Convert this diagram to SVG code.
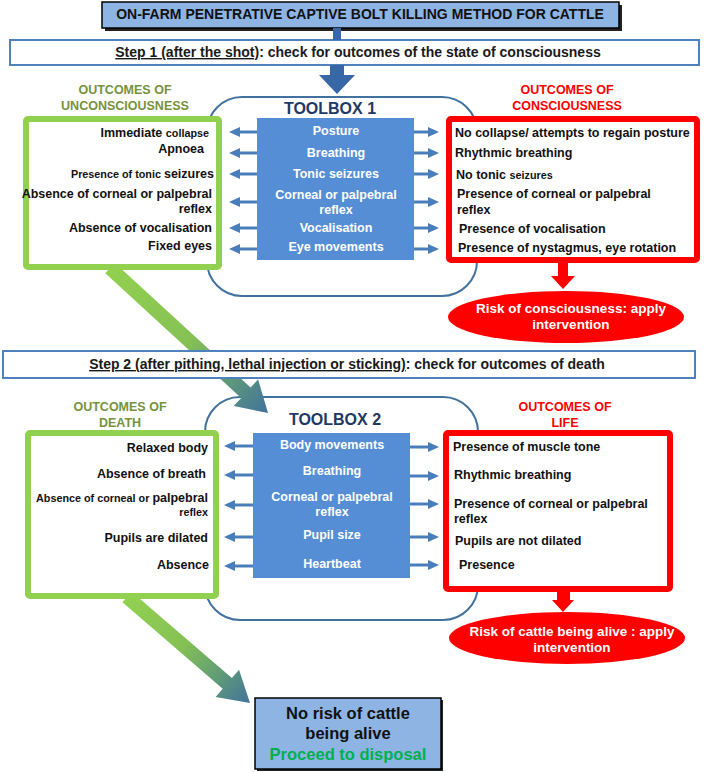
<svg xmlns="http://www.w3.org/2000/svg" width="709" height="772" viewBox="0 0 709 772">
<defs>
<style>
text{font-family:"Liberation Sans",Arial,sans-serif;font-weight:bold}
.t{font-size:12.5px;fill:#111}
.s{font-size:10.8px}
.end{text-anchor:end}
.w{font-size:12.5px;fill:#fff;text-anchor:middle}
.hg{font-size:12.5px;fill:#76923C;text-anchor:middle}
.hr{font-size:12.5px;fill:#FF0000;text-anchor:middle}
.tb{font-size:16px;fill:#1F3864;text-anchor:middle}
.step{font-size:14px;fill:#1a1a1a;text-anchor:middle}
.e{font-size:13.5px;fill:#fff;text-anchor:middle}
.outline{fill:none;stroke:#41719C;stroke-width:2}
.blue{fill:#558ED5}
.gbox{fill:#fff;stroke:#92D050;stroke-width:6}
.rbox{fill:#fff;stroke:#FF0000;stroke-width:6}
.stepbox{fill:#fff;stroke:#4F81BD;stroke-width:2}
.lbox{fill:#8EB4E3;stroke:#000;stroke-width:1.5}
.shadow{fill:#222}
.sa{stroke:#4A7EBB;stroke-width:3;fill:none;marker-end:url(#ah)}
.dark{fill:#3767A6}
.red{fill:#FF0000}
</style>
<marker id="ah" markerUnits="userSpaceOnUse" markerWidth="12" markerHeight="12" refX="7" refY="5" orient="auto"><path d="M0,0 L11,5 L0,10 z" fill="#4A7EBB"/></marker>
<linearGradient id="g1" gradientUnits="userSpaceOnUse" x1="110" y1="268" x2="268" y2="413">
<stop offset="0" stop-color="#92D050"/><stop offset="0.5" stop-color="#86C154"/><stop offset="0.75" stop-color="#5F9B78"/><stop offset="1" stop-color="#41729C"/>
</linearGradient>
<linearGradient id="g2" gradientUnits="userSpaceOnUse" x1="127" y1="597" x2="250" y2="703">
<stop offset="0" stop-color="#92D050"/><stop offset="0.45" stop-color="#86C154"/><stop offset="0.75" stop-color="#5F9B78"/><stop offset="1" stop-color="#41729C"/>
</linearGradient>
</defs>
<rect width="709" height="772" fill="#fff"/>

<g id="title">
<rect class="shadow" x="105" y="5" width="517" height="26"/>
<rect class="lbox" x="102" y="2" width="517" height="26"/>
<text x="360" y="19" style="font-size:14px;fill:#111;text-anchor:middle">ON-FARM PENETRATIVE CAPTIVE BOLT KILLING METHOD FOR CATTLE</text>
</g>

<g id="step1">
<rect class="stepbox" x="10" y="40" width="689" height="25"/>
<text class="step" x="358" y="57"><tspan text-decoration="underline">Step 1 (after the shot)</tspan>: check for outcomes of the state of consciousness</text>
</g>

<g id="toolbox1">
<rect class="outline" x="207" y="97" width="270" height="199" rx="35"/>
<text class="tb" x="330" y="114">TOOLBOX 1</text>
<rect class="blue" x="257" y="118" width="157" height="142"/>
<text class="w" x="336" y="135">Posture</text>
<text class="w" x="336" y="157">Breathing</text>
<text class="w" x="336" y="178">Tonic seizures</text>
<text class="w" x="336" y="199">Corneal or palpebral</text>
<text class="w" x="336" y="214">reflex</text>
<text class="w" x="336" y="232">Vocalisation</text>
<text class="w" x="336" y="251">Eye movements</text>
</g>

<g id="toolbox2">
<rect class="outline" x="205" y="397" width="273" height="223" rx="35"/>
<text class="tb" x="335" y="425">TOOLBOX 2</text>
<rect class="blue" x="253" y="433" width="157" height="145"/>
<text class="w" x="332" y="449">Body movements</text>
<text class="w" x="332" y="475">Breathing</text>
<text class="w" x="332" y="501">Corneal or palpebral</text>
<text class="w" x="332" y="516">reflex</text>
<text class="w" x="332" y="539">Pupil size</text>
<text class="w" x="332" y="568">Heartbeat</text>
</g>

<g id="connectors">
<rect class="dark" x="333" y="28" width="8" height="12"/>
<polygon class="dark" points="330,65 344,65 344,75 355,75 337,94 319,75 330,75"/>
<path class="sa" d="M257,132 H233"/>
<path class="sa" d="M257,153 H233"/>
<path class="sa" d="M257,174 H233"/>
<path class="sa" d="M257,202 H233"/>
<path class="sa" d="M257,228 H233"/>
<path class="sa" d="M257,249 H233"/>
<path class="sa" d="M414,132 H435"/>
<path class="sa" d="M414,153 H435"/>
<path class="sa" d="M414,174 H435"/>
<path class="sa" d="M414,202 H435"/>
<path class="sa" d="M414,228 H435"/>
<path class="sa" d="M414,249 H435"/>
<path class="sa" d="M253,446 H228"/>
<path class="sa" d="M253,475 H228"/>
<path class="sa" d="M253,505 H228"/>
<path class="sa" d="M253,537 H228"/>
<path class="sa" d="M253,566 H228"/>
<path class="sa" d="M410,447 H435"/>
<path class="sa" d="M410,476 H435"/>
<path class="sa" d="M410,504 H435"/>
<path class="sa" d="M410,537 H435"/>
<path class="sa" d="M410,565 H435"/>
<polygon class="red" points="558,262 568,262 568,276 575,276 563,289 551,276 558,276"/>
<polygon class="red" points="557,590 570,590 570,600 574,600 563,612 552,600 557,600"/>
<polygon fill="url(#g1)" points="114.7,262.8 250.6,387.5 258.1,379.4 268,413 233.7,406 241.2,397.9 105.3,273.2"/>
<polygon fill="url(#g2)" points="131.6,591.7 231.9,678.1 239,669.8 250,703 215.6,697 222.7,688.7 122.4,602.3"/>
</g>

<g id="step2">
<rect class="stepbox" x="3" y="351" width="692" height="27"/>
<text class="step" x="347" y="369"><tspan text-decoration="underline">Step 2 (after pithing, lethal injection or sticking)</tspan>: check for outcomes of death</text>
</g>

<g id="unconsciousness">
<text class="hg" x="125" y="94">OUTCOMES OF</text>
<text class="hg" x="125" y="110">UNCONSCIOUSNESS</text>
<rect class="gbox" x="26" y="119" width="193" height="148" rx="2"/>
<text class="t end" x="209" y="137">Immediate <tspan class="s">collapse</tspan></text>
<text class="t end" x="204" y="153">Apnoea</text>
<text class="t end" x="214" y="178"><tspan class="s">Presence of tonic </tspan>seizures</text>
<text class="t end" x="212" y="198">Absence of corneal or palpebral</text>
<text class="t end" x="212" y="213">reflex</text>
<text class="t end" x="212" y="232">Absence of vocalisation</text>
<text class="t end" x="212" y="250">Fixed eyes</text>
</g>

<g id="consciousness">
<text class="hr" x="567" y="94">OUTCOMES OF</text>
<text class="hr" x="567" y="110">CONSCIOUSNESS</text>
<rect class="rbox" x="449" y="119" width="248" height="141" rx="2"/>
<text class="t" x="455" y="137">No collapse/ attempts to regain posture</text>
<text class="t" x="455" y="157">Rhythmic breathing</text>
<text class="t" x="456" y="179">No tonic <tspan class="s">seizures</tspan></text>
<text class="t" x="457" y="198">Presence of corneal or palpebral</text>
<text class="t" x="457" y="214">reflex</text>
<text class="t" x="459" y="233">Presence of vocalisation</text>
<text class="t" x="458" y="252">Presence of nystagmus, eye rotation</text>
</g>

<g id="risk1">
<ellipse class="red" cx="566" cy="317" rx="118" ry="26"/>
<text class="e" x="571" y="313">Risk of consciousness: apply</text>
<text class="e" x="571" y="329">intervention</text>
</g>

<g id="death">
<text class="hg" x="120" y="411">OUTCOMES OF</text>
<text class="hg" x="120" y="427">DEATH</text>
<rect class="gbox" x="28" y="433" width="188" height="163" rx="2"/>
<text class="t end" x="208" y="452">Relaxed body</text>
<text class="t end" x="206" y="478">Absence of breath</text>
<text class="t end" x="208" y="502"><tspan class="s">Absence of corneal or </tspan>palpebral</text>
<text class="t s end" x="208" y="516">reflex</text>
<text class="t end" x="208" y="542">Pupils are dilated</text>
<text class="t end" x="209" y="569">Absence</text>
</g>

<g id="life">
<text class="hr" x="565" y="411">OUTCOMES OF</text>
<text class="hr" x="565" y="427">LIFE</text>
<rect class="rbox" x="446" y="433" width="224" height="156" rx="2"/>
<text class="t" x="453" y="451">Presence of muscle tone</text>
<text class="t" x="454" y="479">Rhythmic breathing</text>
<text class="t" x="454" y="508">Presence of corneal or palpebral</text>
<text class="t" x="454" y="523">reflex</text>
<text class="t" x="455" y="545">Pupils are not dilated</text>
<text class="t" x="459" y="569">Presence</text>
</g>

<g id="risk2">
<ellipse class="red" cx="567" cy="638" rx="118" ry="26"/>
<text class="e" x="572" y="636">Risk of cattle being alive : apply</text>
<text class="e" x="572" y="652">intervention</text>
</g>

<g id="disposal">
<rect class="shadow" x="257" y="700" width="186" height="71"/>
<rect class="lbox" x="255" y="698" width="186" height="71"/>
<text x="348" y="719" style="font-size:16.5px;fill:#111;text-anchor:middle">No risk of cattle</text>
<text x="348" y="739" style="font-size:16.5px;fill:#111;text-anchor:middle">being alive</text>
<text x="348" y="760" style="font-size:16.5px;fill:#00B050;text-anchor:middle">Proceed to disposal</text>
</g>
</svg>
